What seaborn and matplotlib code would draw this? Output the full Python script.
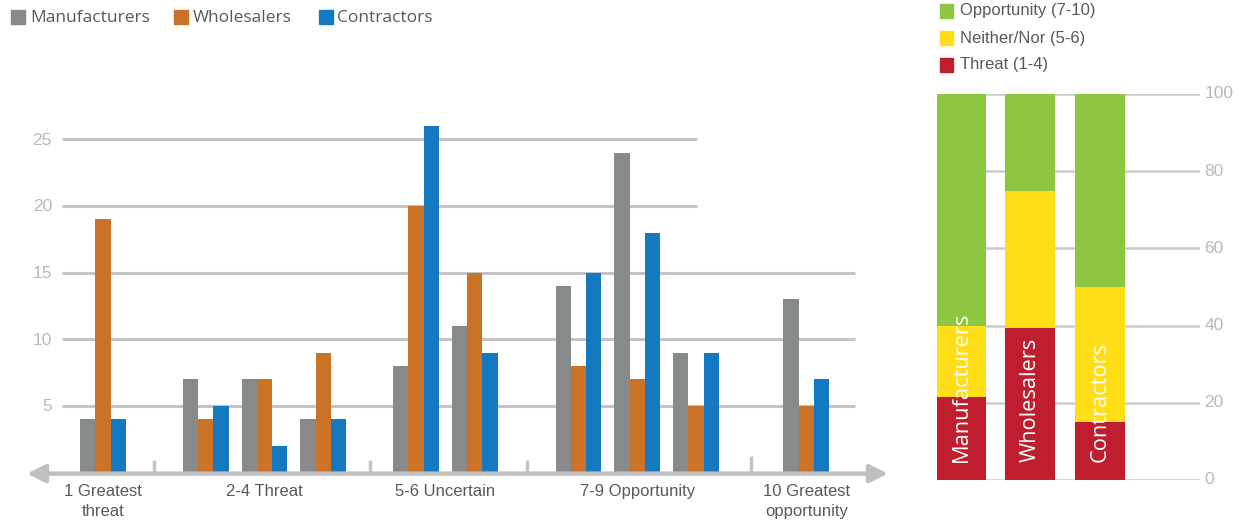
import numpy as np
import pandas as pd
import matplotlib
matplotlib.use("Agg")
import matplotlib.pyplot as plt
from matplotlib.patches import Rectangle
import seaborn as sns

# ---- data -------------------------------------------------------------
scores = [1, 2, 3, 4, 5, 6, 7, 8, 9, 10]
manufacturers = [4, 7, 7, 4, 8, 11, 14, 24, 9, 13]
wholesalers = [19, 4, 7, 9, 20, 15, 8, 7, 5, 5]
contractors = [4, 5, 2, 4, 26, 9, 15, 18, 9, 7]
series_names = ["Manufacturers", "Wholesalers", "Contractors"]

band_labels = ["1 Greatest\nthreat", "2-4 Threat", "5-6 Uncertain",
               "7-9 Opportunity", "10 Greatest\nopportunity"]
band_of_score = [0, 1, 1, 1, 2, 2, 3, 3, 3, 4]
count_ticks = [5, 10, 15, 20, 25]

share_groups = ["Manufacturers", "Wholesalers", "Contractors"]
threat_pct = [21.5, 39.5, 15.0]
neither_pct = [18.5, 35.5, 35.0]
opportunity_pct = [60.0, 25.0, 50.0]
share_labels = ["Opportunity (7-10)", "Neither/Nor (5-6)", "Threat (1-4)"]
share_ticks = [0, 20, 40, 60, 80, 100]

# ---- styling ----------------------------------------------------------
series_colors = ["#878a8a", "#cc7226", "#1479c0"]
share_colors = ["#8dc63f", "#ffde17", "#be1e2d"]   # opportunity, neither, threat
grid_color = "#c4c4c6"
tick_color = "#b9b9b9"
text_color = "#595959"

sns.set_theme(style="white")
plt.rcParams["font.family"] = ["Liberation Sans", "DejaVu Sans"]

W, H = 1238, 523
fig = plt.figure(figsize=(W / 100, H / 100), dpi=100)


def px_axes(left, top, right, bottom):
    return fig.add_axes([left / W, 1 - bottom / H, (right - left) / W, (bottom - top) / H])


# ---- left: score distribution ----------------------------------------
band_offset = [0.0, 0.75, 1.33, 2.1, 2.98]     # extra spacing between score bands
positions = [s + band_offset[b] for s, b in zip(scores, band_of_score)]

df = pd.DataFrame({
    "pos": positions * 3,
    "count": manufacturers + wholesalers + contractors,
    "series": np.repeat(series_names, len(scores)),
})

ax = px_axes(27, 100, 888, 472.5)
x0, x1 = -0.295, 14.37
y_top = (472.5 - 100) / 13.33
ax.set_xlim(x0, x1)
ax.set_ylim(0, y_top)

grid_ends = {5: 13.81, 10: 13.81, 15: 13.81, 20: 11.12, 25: 11.12}
for t in count_ticks:
    ax.hlines(t, 0.30, grid_ends[t], color=grid_color, lw=2.2, zorder=0)
    ax.text(0.13, t - 0.08, str(t), ha="right", va="center", color=tick_color, fontsize=12.5)

sns.barplot(data=df, x="pos", y="count", hue="series", hue_order=series_names,
            palette=series_colors, native_scale=True, width=0.78, saturation=1,
            errorbar=None, linewidth=0, legend=False, ax=ax, zorder=2)
ax.set_xlim(x0, x1)
ax.set_ylim(0, y_top)

# double-headed baseline
ax.annotate("", xy=(0, -0.003), xytext=(1, -0.003), xycoords="axes fraction",
            textcoords="axes fraction",
            arrowprops=dict(arrowstyle="<|-|>", color="#bfbfc1", lw=3.2,
                            mutation_scale=27, shrinkA=0, shrinkB=0),
            annotation_clip=False, zorder=3)

# separators between bands and band labels
band_pos = [[p for p, b in zip(positions, band_of_score) if b == k] for k in range(len(band_labels))]
for k in range(len(band_labels) - 1):
    sep = (band_pos[k][-1] + band_pos[k + 1][0]) / 2
    h = 1.25 if k == len(band_labels) - 2 else 0.95
    ax.vlines(sep, 0, h, color="#c4c4c6", lw=2.5, zorder=1)
for k, lab in enumerate(band_labels):
    ax.text(np.mean(band_pos[k]), -0.9, lab, ha="center", va="top",
            color=text_color, fontsize=12, linespacing=1.38)

ax.set_xticks([])
ax.set_yticks([])
ax.set_xlabel("")
ax.set_ylabel("")
sns.despine(ax=ax, left=True, bottom=True)

# ---- right: share of threat / neither / opportunity -------------------
share_df = pd.DataFrame({
    "group": share_groups,
    "threat": threat_pct,
    "neither": neither_pct,
    "opportunity": opportunity_pct,
})
share_df["upto_neither"] = share_df["threat"] + share_df["neither"]
share_df["upto_opportunity"] = share_df["upto_neither"] + share_df["opportunity"]

ax2 = px_axes(937, 94, 1200, 480)
for t in share_ticks:
    ax2.axhline(t, color="#cbcbcd", lw=1.8, zorder=0)
    ax2.text(1.017, t, str(t), transform=ax2.get_yaxis_transform(),
             ha="left", va="center", color=tick_color, fontsize=12.5)

for col, c in zip(["upto_opportunity", "upto_neither", "threat"], share_colors):
    sns.barplot(data=share_df, x="group", y=col, color=c, width=0.72,
                saturation=1, linewidth=0, errorbar=None, ax=ax2, zorder=2)

for i, g in enumerate(share_groups):
    ax2.text(i, 4.7, g, rotation=90, ha="center", va="bottom", color="white",
             fontsize=15.7, family=["Open Sans", "DejaVu Sans"], zorder=4)

ax2.set_xlim(-0.345, 3.44)
ax2.set_ylim(0, 100)
ax2.set_xticks([])
ax2.set_yticks([])
ax2.set_xlabel("")
ax2.set_ylabel("")
sns.despine(ax=ax2, left=True, bottom=True)

# ---- legends ------------------------------------------------------------
def fig_square(x, y, w, h, color):
    fig.patches.append(Rectangle((x / W, 1 - (y + h) / H), w / W, h / H,
                                 transform=fig.transFigure, color=color, figure=fig))


left_entries = [(11, 30), (174, 193), (319, 337)]
for (sx, tx), name, c in zip(left_entries, series_names, series_colors):
    fig_square(sx, 10, 14, 14, c)
    fig.text(tx / W, 1 - 17.5 / H, name, ha="left", va="center", color=text_color,
             fontsize=12.5, family=["Open Sans", "DejaVu Sans"])

right_rows = [11, 38, 65]
for y, name, c in zip(right_rows, share_labels, share_colors):
    fig_square(940, y - 7, 13, 14, c)
    fig.text(960 / W, 1 - y / H, name, ha="left", va="center", color=text_color,
             fontsize=12)

fig.savefig("out.png", dpi=100)
